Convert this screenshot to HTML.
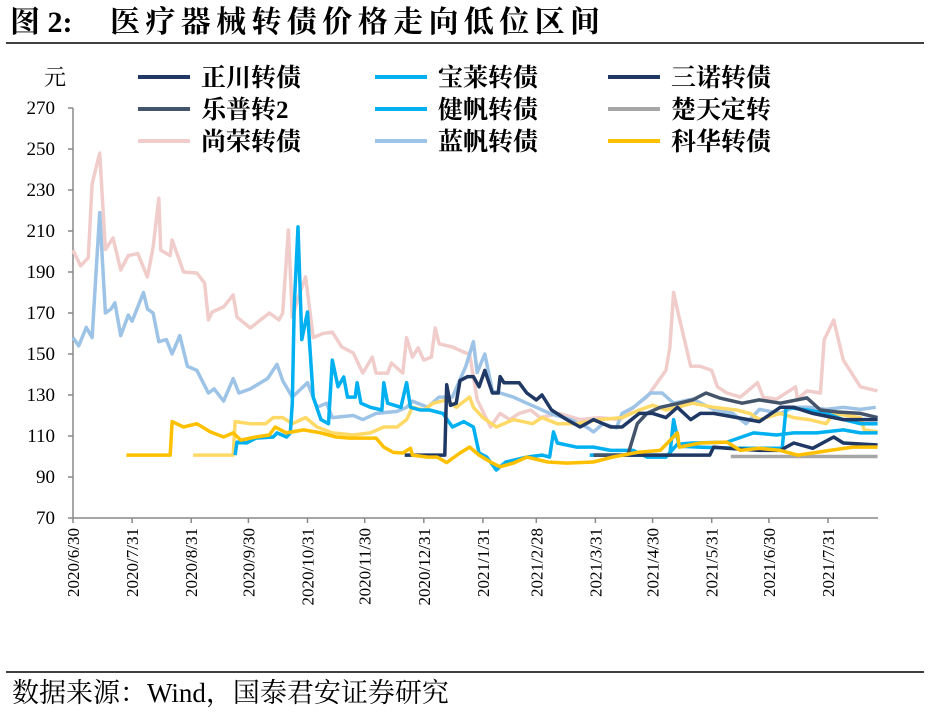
<!DOCTYPE html>
<html><head><meta charset="utf-8"><style>
body{margin:0;background:#fff;width:930px;height:717px;overflow:hidden;font-family:"Liberation Serif","Noto Serif CJK SC",serif}
svg text{font-family:"Liberation Serif","Noto Serif CJK SC",serif}
</style></head><body>
<svg id="chart" width="930" height="717" xmlns="http://www.w3.org/2000/svg">
<text x="10" y="32" font-size="30" font-weight="bold" fill="#000">图 2:</text>
<text x="110" y="32" font-size="30" font-weight="bold" fill="#000" textLength="490" lengthAdjust="spacing">医疗器械转债价格走向低位区间</text>
<line x1="6" y1="43" x2="924" y2="43" stroke="#000" stroke-width="1.5"/>
<line x1="6" y1="672" x2="924" y2="672" stroke="#000" stroke-width="1.5"/>
<text x="12" y="702" font-size="27" fill="#000">数据来源：Wind，国泰君安证券研究</text>
<text x="44" y="85" font-size="22" fill="#000">元</text>
<g id="axes"></g><g id="series"></g><g id="legend"></g>
</svg>
<script>
const yTicks=[70,90,110,130,150,170,190,210,230,250,270];
const xTickLabels=["2020/6/30","2020/7/31","2020/8/31","2020/9/30","2020/10/31","2020/11/30","2020/12/31","2021/1/31","2021/2/28","2021/3/31","2021/4/30","2021/5/31","2021/6/30","2021/7/31"];
const xTickDays=[0,31,62,92,123,153,184,215,243,274,304,335,365,396];
const legendNames=["正川转债","宝莱转债","三诺转债","乐普转2","健帆转债","楚天定转","尚荣转债","蓝帆转债","科华转债"];
const s_shangrong=[[0,200.7],[4,193],[8,197],[10,233],[14,248],[17,201],[21,206.6],[25,191],[29,198],[34,199],[39,187.6],[42,202],[45,226],[46,200.7],[51,198],[52,205.6],[58,190],[65,189.5],[69,184.6],[71,166.6],[73,170.5],[79,173],[84,178.8],[86,168],[93,162.7],[103,170],[108,166.6],[110,170],[113,210.5],[115,168],[119,179.8],[122,187.6],[126,158],[131,160],[136,160.7],[141,153.4],[147,150.5],[152,140.7],[157,148.5],[159,140.7],[165,140.7],[167,145.6],[173,140.7],[175,158],[178,148.5],[181,153],[184,147],[188,148.5],[190,162.7],[192,155],[199,153.4],[206,150.5],[208,150],[212,127.6],[219,114.4],[224,121],[229,118],[234,121],[240,122.7],[245,119],[255,121],[266,118],[276,119],[287,118],[294,124],[301,129],[311,142],[313,153],[315,180],[317,171.5],[324,144],[329,144],[335,142],[338,134],[343,131],[350,129],[359,136],[362,129],[369,128],[379,134],[380,128],[385,132],[392,131],[394,157],[399,166.6],[404,147],[413,134],[422,132]];
const s_lanfan=[[0,158],[3,154],[7,163],[10,158],[14,219],[17,170],[20,172],[22,175],[25,159],[29,169],[31,166],[37,180],[39,172],[42,170],[45,156],[49,157],[52,150],[56,159],[60,144],[65,142],[71,131],[74,133],[79,127],[84,138],[87,131],[93,133],[102,138],[107,145],[110,137],[115,129],[123,136],[128,124],[133,126],[136,119],[147,120],[152,118],[159,121],[170,122],[175,124],[178,127],[186,124],[192,129],[199,129],[206,144],[210,156],[212,141],[216,150],[220,132],[224,131],[231,129],[238,126],[243,124],[250,121],[261,118],[270,114],[273,112],[278,116],[285,114],[288,121],[294,124],[303,131],[309,131],[315,126],[325,128],[336,123],[346,121],[353,116],[360,123],[371,121],[378,124],[386,124],[395,123],[404,124],[413,123],[421,124]];
const s_other=[[63,100.7],[84,100.7],[85,117],[93,116],[101,116],[105,119],[110,119],[115,116],[122,119],[128,114.4],[136,111.5],[147,110.5],[156,111.5],[163,114.4],[170,114.4],[175,118],[178,124],[184,122.7],[189,126],[196,127.6],[201,124],[208,129],[210,124],[215,119],[222,114.4],[231,118],[241,116],[246,119],[254,116],[264,116],[276,118],[288,119],[297,122.7],[304,125],[311,122.7],[317,124],[325,126],[336,124],[348,122.7],[355,121],[360,118],[371,121],[378,119],[386,118],[395,116],[399,121],[413,119],[415,113],[422,112]];
const s_kehua=[[28,100.7],[51,100.7],[52,117],[58,114.4],[65,116],[72,112],[79,109.5],[84,111.5],[88,108],[96,109.5],[103,110.5],[106,114.4],[112,111.5],[121,113],[130,111.5],[138,109.5],[145,109],[159,109],[163,104.6],[168,102],[173,101.7],[177,104],[178,100.7],[186,99.7],[191,99.7],[196,97],[203,101.7],[208,104.6],[213,100.7],[220,96.8],[224,95],[231,96.8],[238,99.7],[249,97.3],[259,96.8],[273,97.3],[283,99.7],[296,102],[308,103],[317,111.5],[318,104.6],[329,106.6],[343,107],[350,103],[360,104],[371,103],[380,100.7],[388,101.7],[397,103],[409,104.6],[422,104.6]];
const s_jianfan=[[85,100.7],[86,107],[91,106.6],[96,109],[105,109.5],[107,111.5],[112,109.5],[114,111.5],[115,126],[116,173],[118,212],[120,157],[123,170.5],[126,129],[130,118],[134,116],[136,147],[139,134],[142,138.8],[144,129],[148,129],[149,136],[151,126],[156,124],[162,122.7],[163,136],[165,126],[172,124],[175,136],[177,124],[182,122.7],[187,122.7],[194,121],[199,114.4],[205,117],[210,114.4],[213,101.7],[217,99.7],[222,93.4],[227,97.3],[238,99.7],[246,100.7],[250,99.7],[252,112],[254,106.6],[264,104.6],[273,104.6],[282,103],[294,103],[301,99.7],[311,99.7],[317,106],[325,106.6],[343,107],[357,111.5],[369,110.5],[378,111.5],[390,111.5],[404,113],[413,111.5],[422,111.5]];
const s_baolai=[[271,100.7],[290,100.7],[313,100.7],[315,118],[318,105],[330,104.5],[350,104],[372,104],[374,124],[385,122.7],[395,121],[404,118],[413,116],[422,116]];
const s_sannuo=[[174,100.7],[195,100.7],[196,135],[198,125],[201,126],[203,137],[207,139],[210,139],[213,134],[216,142],[220,131],[223,131],[224,139],[226,136],[234,136],[238,131],[243,127.6],[246,130],[251,122.7],[259,118],[266,114.4],[273,118],[282,114.4],[288,114.4],[297,121],[304,121],[311,119],[317,124],[324,118],[329,121],[336,121],[360,117],[371,124],[378,124],[388,121],[404,118],[422,118]];
const s_zhengchuan=[[273,100.7],[334,100.7],[336,104.6],[343,104],[360,103],[371,103],[378,106.6],[388,104],[399,109.5],[404,106.6],[422,105.6]];
const s_lepu=[[273,100.7],[291,100.7],[296,116],[301,121],[308,124],[318,126],[325,127.6],[332,131],[339,128.6],[351,126],[360,127.6],[371,126],[385,128.6],[392,122.7],[401,121.7],[413,121],[422,119]];
const s_chutian=[[345,100],[422,100]];

const X0=73,XPD=755/396,Y0=518,YPU=2.05;
const xs=d=>X0+d*XPD, ys=v=>Y0-(v-70)*YPU;
const NS="http://www.w3.org/2000/svg";
function mk(tag,attrs,parent){const e=document.createElementNS(NS,tag);for(const k in attrs)e.setAttribute(k,attrs[k]);parent.appendChild(e);return e;}
const axes=document.getElementById('axes');
let ax=mk('line',{x1:X0,y1:ys(270),x2:X0,y2:Y0,stroke:'#888','stroke-width':1.5},axes);


let bx=mk('line',{x1:X0,y1:Y0,x2:878,y2:Y0,stroke:'#888','stroke-width':1.5},axes);


yTicks.forEach(v=>{
  const t=mk('line',{x1:X0-5,y1:ys(v),x2:X0,y2:ys(v),stroke:'#888','stroke-width':1.5},axes);
  
  
  const l=mk('text',{x:55,y:ys(v)+6,'text-anchor':'end','font-size':19,fill:'#000'},axes);
  
  
  l.textContent=v;
});
xTickDays.forEach((d,i)=>{
  const x=xs(d);
  const t=mk('line',{x1:x,y1:Y0,x2:x,y2:Y0+5,stroke:'#888','stroke-width':1.5},axes);
  
  
  const l=mk('text',{x:0,y:0,'text-anchor':'end','font-size':17,fill:'#000',transform:`translate(${x+6},${Y0+10}) rotate(-90)`},axes);
  
  
  l.textContent=xTickLabels[i];
});
const series=[
 ['series-shangrong',s_shangrong,'#F0CDCB'],
 ['series-lanfan',s_lanfan,'#9DC3E6'],
 ['series-unlabeled',s_other,'#FFD966'],
 ['series-chutian',s_chutian,'#A6A6A6'],
 ['series-baolai',s_baolai,'#00B0F0'],
 ['series-jianfan',s_jianfan,'#00B0F0'],
 ['series-zhengchuan',s_zhengchuan,'#1F3864'],
 ['series-lepu2',s_lepu,'#44546A'],
 ['series-sannuo',s_sannuo,'#1F3864'],
 ['series-kehua',s_kehua,'#FFC000']];
const sg=document.getElementById('series');
series.forEach(([n,d,c])=>{
  const p=mk('polyline',{points:d.map(q=>xs(q[0]).toFixed(1)+','+ys(q[1]).toFixed(1)).join(' '),fill:'none',stroke:c,'stroke-width':3.5,'stroke-linejoin':'round'},sg);
  
  
});
const lg=document.getElementById('legend');
const lcol=['#1F3864','#00B0F0','#1F3864','#44546A','#00B0F0','#A6A6A6','#F0CDCB','#9DC3E6','#FFC000'];
const lx=[138,375,608], lyy=[77,109,141];
legendNames.forEach((nm,i)=>{
  const x=lx[i%3], y=lyy[Math.floor(i/3)];
  const l=mk('line',{x1:x,y1:y,x2:x+52,y2:y,stroke:lcol[i],'stroke-width':4},lg);
  
  
  const t=mk('text',{x:x+63,y:y+9,'font-size':25,'font-weight':'bold',fill:'#000'},lg);
  
  
  t.textContent=nm;
});
</script>
</body></html>
